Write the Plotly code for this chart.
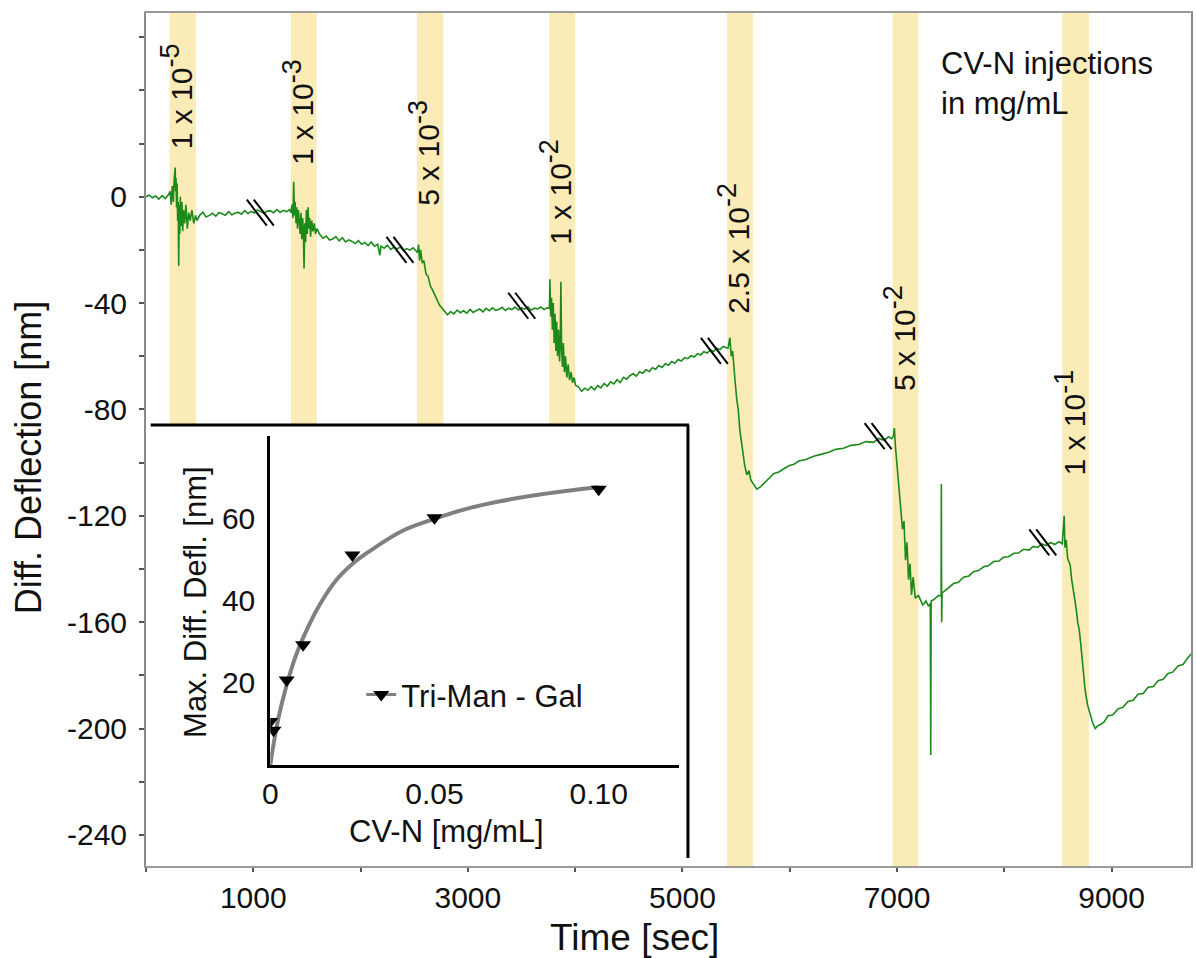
import plotly.graph_objects as go

# ---------------- main trace: differential deflection vs time ----------------
seg1_t = [0, 30, 60, 90, 120, 150, 180, 210,
          225, 235, 245, 255, 262, 268, 272, 276, 280, 285, 290, 295, 300, 305, 310, 315, 320, 328, 335, 342,
          350, 360, 372, 385, 398, 412, 428, 445, 462, 475]
seg1_v = [0, 0.6, -0.4, 0.3, -0.9, 0.4, -0.7, 0.8,
          2, -3, 4, -2, 6, 8, 11, 2, 7, -4, 5, -9, -2, -26, -3, -14, 0, -11, -2, -13,
          -5, -10, -3, -12, -6, -9, -5, -10, -7, -9]
seg2_t = [500, 530, 560, 590, 620, 650, 680, 710, 740, 770, 800, 830, 860, 890, 920, 950, 980, 1010, 1040,
          1070, 1100, 1130, 1160, 1190, 1220, 1250, 1280, 1310, 1340]
seg2_v = [-7, -5.8, -7.6, -7.0, -6.2, -7.3, -5.9, -6.4, -7.0, -5.6, -6.8, -6.1, -5.9, -6.6, -5.2, -6.3, -5.5, -6.1,
          -5.0, -5.6, -6.2, -5.4, -5.3, -6.0, -4.8, -5.9, -5.1, -5.6, -4.9]
seg3_t = [1352, 1362, 1370, 1377, 1383, 1390, 1398, 1405, 1412, 1420, 1428, 1436, 1444, 1452, 1460, 1467, 1473,
          1480, 1488, 1495, 1503, 1510, 1518, 1526, 1534, 1545, 1556, 1568, 1580, 1592]
seg3_v = [-6, -3, -8, 5.6, -7, -2, -10, -4, -12, -5, -9, -14, -6, -16, -8, -13, -27,
          -10, -17, -5, -14, -4, -12, -8, -15, -9, -13, -10, -14, -12]
seg4_t = [1620, 1650, 1680, 1710, 1740, 1770, 1800, 1830, 1860, 1890, 1920, 1950, 1980, 2010, 2040, 2070, 2100,
          2130, 2160, 2180, 2190, 2220, 2250, 2280, 2310, 2340, 2370, 2400, 2430, 2460, 2490, 2515]
seg4_v = [-14.2, -15.6, -14.8, -16.3, -15.9, -15.0, -16.6, -15.4, -17.0, -16.2, -16.8, -17.6, -16.5, -17.9, -17.2,
          -18.4, -17.0, -18.6, -17.9, -22, -18.6, -19.4, -18.2, -19.8, -19.0, -19.6, -18.9, -20.3, -19.5, -20.1,
          -19.2, -20.3]
seg5_t = [2530, 2540, 2550, 2560, 2575, 2590, 2610, 2630, 2650, 2670, 2690, 2710, 2735, 2760,
          2785, 2810, 2840, 2870, 2900, 2930, 2960, 2990, 3020, 3050, 3080, 3110, 3140, 3170, 3200, 3230, 3260,
          3290, 3320, 3350, 3380, 3410, 3440, 3470, 3500, 3530, 3560, 3590, 3620, 3650, 3680, 3710, 3740]
seg5_v = [-21, -18, -24, -20, -25, -24, -29, -30, -33.5, -35, -37, -38.5, -40.7, -42,
          -43, -44.4, -43.2, -44.1, -42.6, -43.6, -42.9, -43.8, -42.4, -43.5, -42.8, -42.2, -43.3, -42.0, -42.9,
          -41.8, -42.7, -42.3, -41.6, -42.8, -41.9, -42.4, -41.5, -42.6, -41.8, -42.3, -41.4, -42.7, -41.9, -42.2,
          -41.5, -42.4, -41.8]
seg6_t = [3760, 3765, 3772, 3780, 3788, 3796, 3804, 3812, 3820, 3828, 3836, 3845, 3855, 3862, 3867, 3874, 3882,
          3890, 3900, 3910, 3922, 3935, 3948, 3962, 3976, 3990, 4005]
seg6_v = [-42, -31, -45, -38, -50, -40, -55, -44, -58, -47, -60, -50, -62, -52, -32, -58, -64,
          -55, -66, -60, -68, -63, -69, -66, -70, -68, -71]
seg7_t = [4030, 4060, 4090, 4120, 4150, 4180, 4210, 4240, 4270, 4300, 4330, 4360, 4390, 4420, 4450, 4480, 4510,
          4540, 4570, 4600, 4630, 4660, 4690, 4720, 4750, 4780, 4810, 4840, 4870, 4900, 4930, 4960, 4990, 5020,
          5050, 5080, 5110, 5140, 5170, 5200, 5230, 5260, 5290, 5320, 5350, 5380, 5410]
seg7_v = [-71.5, -73.2, -72.0, -72.8, -71.4, -72.6, -71.0, -71.9, -70.2, -71.3, -69.6, -70.4, -68.8, -69.9, -67.9,
          -68.6, -67.3, -66.6, -67.5, -65.8, -66.4, -65.1, -65.7, -64.3, -64.9, -63.5, -64.2, -62.8, -63.4, -62.0,
          -62.6, -61.2, -61.8, -60.5, -60.9, -59.8, -60.3, -59.0, -59.5, -58.3, -58.8, -57.6, -58.2, -57.0, -57.5,
          -56.3, -56.8]
seg8_t = [5425, 5442, 5455, 5468, 5479, 5492, 5507, 5520, 5535, 5549, 5563, 5580, 5600, 5620, 5637, 5660, 5693,
          5730, 5765]
seg8_v = [-57, -53, -60, -58, -65, -70, -76.5, -80, -87.8, -92, -97, -101, -104.6, -103, -106.5, -108, -110,
          -109, -107.5]
seg9_t = [5805, 5850, 5898, 5945, 5991, 6040, 6084, 6150, 6223, 6290, 6363, 6430, 6502, 6570, 6642, 6710, 6781,
          6830, 6880, 6920, 6950]
seg9_v = [-106.0, -104.2, -103.5, -102.4, -101.2, -100.6, -99.4, -98.8, -97.6, -96.9, -96.1, -95.0, -94.6, -93.5,
          -93.2, -92.1, -92.4, -90.9, -91.6, -90.3, -91.0]
seg10_t = [6967, 6975, 6985, 6995, 7009, 7023, 7037, 7051, 7065, 7079, 7093, 7107, 7121, 7135, 7150, 7170, 7200,
           7240, 7270, 7293, 7310, 7314, 7318, 7340, 7385, 7411, 7413, 7416, 7420, 7433]
seg10_v = [-90, -87, -94, -99, -106, -114, -118, -125, -122, -136.7, -130, -144, -138, -149.8, -143, -151, -150,
           -153.5, -152, -154, -153, -210, -152, -151.6, -150, -150, -108, -160, -149, -148.6]
seg11_t = [7480, 7530, 7572, 7620, 7670, 7712, 7760, 7810, 7851, 7900, 7950, 7991, 8040, 8090, 8130, 8180, 8230,
           8270, 8310, 8350, 8390, 8430, 8470, 8510, 8540]
seg11_v = [-147.2, -145.4, -145.0, -143.1, -142.6, -141.0, -140.6, -139.1, -138.8, -137.2, -137.0, -135.6, -135.4,
           -134.1, -134.0, -132.6, -132.9, -131.5, -131.9, -130.6, -131.2, -130.0, -130.8, -129.7, -130.5]
seg12_t = [8558, 8565, 8577, 8590, 8614, 8628, 8642, 8656, 8670, 8684, 8698, 8712, 8726, 8740, 8753, 8775, 8800,
           8825, 8847, 8870, 8893]
seg12_v = [-120, -132, -129, -136, -138.5, -144, -147.8, -150, -155, -160, -162.8, -168, -174, -180, -185.5, -191,
           -195, -198, -200, -199, -198.6]
seg13_t = [8930, 8967, 9010, 9060, 9105, 9153, 9200, 9247, 9295, 9340, 9390, 9433, 9480, 9526, 9570, 9619, 9665,
           9712, 9740]
seg13_v = [-197.5, -195.2, -194.9, -192.6, -192.0, -189.8, -189.4, -187.1, -186.8, -184.5, -184.2, -182.0, -181.5,
           -179.3, -178.8, -176.5, -175.9, -173.4, -172.0]

time_s = (seg1_t + seg2_t + seg3_t + seg4_t + seg5_t + seg6_t + seg7_t + seg8_t + seg9_t + seg10_t
          + seg11_t + seg12_t + seg13_t)
defl_nm = (seg1_v + seg2_v + seg3_v + seg4_v + seg5_v + seg6_v + seg7_v + seg8_v + seg9_v + seg10_v
           + seg11_v + seg12_v + seg13_v)

# injection windows (s) and the injected CV-N concentrations
band_start_s = [220, 1350, 2525, 3758, 5417, 6958, 8540]
band_end_s = [465, 1591, 2772, 4000, 5656, 7200, 8788]
band_mant = ["1 x 10", "1 x 10", "5 x 10", "1 x 10", "2.5 x 10", "5 x 10", "1 x 10"]
band_exp = ["-5", "-3", "-3", "-2", "-2", "-2", "-1"]

# axis break positions (time, deflection)
break_t = [1070, 2372, 3507, 5302, 6828, 8363]
break_v = [-6, -20, -41, -58, -90, -130]

# inset: max differential deflection vs concentration
cvn_conc = [0.00001, 0.001, 0.005, 0.01, 0.025, 0.05, 0.10]
max_defl = [10.6, 8.5, 20.7, 29.3, 51.2, 60.3, 67.2]
fit_conc = [0, 0.001, 0.0025, 0.005, 0.0075, 0.01, 0.015, 0.02, 0.025, 0.03, 0.04, 0.05, 0.06, 0.07, 0.08, 0.09, 0.10]
fit_defl = [0, 5, 11.5, 19.5, 26, 31, 39, 45, 49, 52, 57, 60, 62.5, 64.3, 65.7, 66.8, 67.7]

# y tick labels (main)
y_ticks = [0, -40, -80, -120, -160, -200, -240]
y_ticktext = ["0", "-40", "-80", "-120", "-160", "-200", "-240"]

# ---------------- layout constants ----------------
X_RANGE = [0, 9740]
Y_RANGE = [-251.7, 69.1]
PANEL_TOP_V = -85.5      # top edge of inset panel in main data units
PANEL_RIGHT_T = 5060     # right edge of inset panel in main time units
label_pos_nm = [37.7, 31.8, 16.6, 1.9, -19.6, -53.3, -85.1]

FONT = "Liberation Sans, Arial, sans-serif"
GREEN = "#1b8a1b"
BAND = "#FBEBB6"
TXT = "#111111"

fig = go.Figure()
fig.add_trace(go.Scatter(x=time_s, y=defl_nm, mode="lines",
                         line=dict(color=GREEN, width=1.6), showlegend=False,
                         xaxis="x", yaxis="y", hoverinfo="skip"))
fig.add_trace(go.Scatter(x=fit_conc, y=fit_defl, mode="lines",
                         line=dict(color="#808080", width=4, shape="spline"),
                         showlegend=False, xaxis="x2", yaxis="y2"))
fig.add_trace(go.Scatter(x=cvn_conc, y=max_defl, mode="markers",
                         marker=dict(symbol="triangle-down", size=14, color="black"),
                         showlegend=False, xaxis="x2", yaxis="y2"))
fig.add_trace(go.Scatter(x=[None], y=[None], mode="lines+markers", name="Tri-Man - Gal",
                         line=dict(color="#808080", width=3),
                         marker=dict(symbol="triangle-down", size=14, color="black"),
                         xaxis="x2", yaxis="y2"))

shapes = []
for s, e in zip(band_start_s, band_end_s):
    y0 = PANEL_TOP_V if e < PANEL_RIGHT_T else Y_RANGE[0]
    shapes.append(dict(type="rect", xref="x", yref="y", x0=s, x1=e, y0=y0, y1=Y_RANGE[1],
                       fillcolor=BAND, line=dict(width=0), layer="below"))
for t, v in zip(break_t, break_v):
    for dx in (-4, 3):
        shapes.append(dict(type="line", xref="x", yref="y", xsizemode="pixel", ysizemode="pixel",
                           xanchor=t, yanchor=v, x0=dx - 10, x1=dx + 10, y0=13, y1=-13,
                           line=dict(color="black", width=2), layer="above"))
# inset panel border (top and right)
px0 = (150.7 - 146) / 1047
px1 = (689 - 146) / 1047
pyt = (866 - 425) / 853
pyb = (866 - 858) / 853
shapes.append(dict(type="line", xref="paper", yref="paper", x0=px0, x1=px1 + 0.001, y0=pyt, y1=pyt,
                   line=dict(color="black", width=3)))
shapes.append(dict(type="line", xref="paper", yref="paper", x0=px1, x1=px1, y0=pyt, y1=pyb,
                   line=dict(color="black", width=3)))

annotations = []
for s, e, m, ex, yp in zip(band_start_s, band_end_s, band_mant, band_exp, label_pos_nm):
    lab = m + "<sup><span style='font-size:27px'>" + ex + "</span></sup>"
    annotations.append(dict(x=(s + e) / 2, y=yp, xref="x", yref="y", text=lab, showarrow=False,
                            xanchor="center", yanchor="middle",
                            textangle=-90, xshift=-6, font=dict(size=30, color=TXT, family=FONT)))
annotations += [
    dict(x=0.467, y=-0.0844, xref="paper", yref="paper", text="Time [sec]", showarrow=False,
         xanchor="center", yanchor="middle", font=dict(size=37, color=TXT, family=FONT)),
    dict(x=-0.1127, y=0.4783, xref="paper", yref="paper", text="Diff. Deflection [nm]", showarrow=False,
         xanchor="center", yanchor="middle", textangle=-90, font=dict(size=36, color=TXT, family=FONT)),
    dict(x=0.0478, y=0.3095, xref="paper", yref="paper", text="Max. Diff. Defl. [nm]", showarrow=False,
         xanchor="center", yanchor="middle", textangle=-90, font=dict(size=31, color=TXT, family=FONT)),
    dict(x=0.2875, y=0.0399, xref="paper", yref="paper", text="CV-N [mg/mL]", showarrow=False,
         xanchor="center", yanchor="middle", font=dict(size=31, color=TXT, family=FONT)),
    dict(x=0.759, y=0.9637, xref="paper", yref="paper", text="CV-N injections<br>in mg/mL",
         showarrow=False, xanchor="left", yanchor="top", align="left",
         font=dict(size=31, color=TXT, family=FONT)),
]

fig.update_layout(
    width=1196, height=958,
    margin=dict(l=146, r=3, t=13, b=92),
    paper_bgcolor="white", plot_bgcolor="white",
    font=dict(family=FONT, color=TXT),
    shapes=shapes, annotations=annotations,
    showlegend=True,
    legend=dict(x=0.206, y=0.2005, xanchor="left", yanchor="middle", bgcolor="rgba(0,0,0,0)",
                font=dict(size=31, family=FONT, color=TXT), itemwidth=30),
    xaxis=dict(domain=[0, 1], range=X_RANGE, showgrid=False, zeroline=False,
               showline=True, linecolor="#9a9a9a", linewidth=2, mirror=True,
               ticks="outside", ticklen=4, tickcolor="#555", tickwidth=2,
               tickvals=[1000, 3000, 5000, 7000, 9000],
               minor=dict(dtick=1000, tick0=0, ticks="outside", ticklen=4, tickcolor="#555", tickwidth=2),
               tickfont=dict(size=30, family=FONT, color=TXT), ticklabelstandoff=0),
    yaxis=dict(domain=[0, 1], range=Y_RANGE, showgrid=False, zeroline=False,
               showline=True, linecolor="#8a8a8a", linewidth=2, mirror=True,
               ticks="outside", ticklen=5, tickcolor="#555", tickwidth=1.5,
               tickvals=y_ticks, ticktext=y_ticktext,
               minor=dict(dtick=20, tick0=0, ticks="outside", ticklen=5, tickcolor="#555", tickwidth=1.5),
               tickfont=dict(size=30, family=FONT, color=TXT), ticklabelstandoff=6),
    xaxis2=dict(domain=[0.1189, 0.5096], anchor="y2", range=[0, 0.1243], showgrid=False, zeroline=False,
                showline=True, linecolor="black", linewidth=3, ticks="", ticklen=0,
                tickvals=[0, 0.05, 0.10], ticktext=["0", "0.05", "0.10"],
                tickfont=dict(size=30, family=FONT, color=TXT), ticklabelstandoff=0),
    yaxis2=dict(domain=[0.1184, 0.5041], anchor="x2", range=[0, 80.2], showgrid=False, zeroline=False,
                showline=True, linecolor="black", linewidth=3, ticks="", ticklen=0,
                tickvals=[20, 40, 60],
                tickfont=dict(size=30, family=FONT, color=TXT), ticklabelstandoff=6),
)

fig.write_html("out.html")
